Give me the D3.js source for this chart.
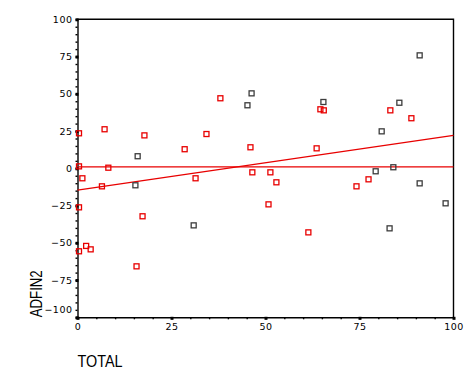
<!DOCTYPE html>
<html>
<head>
<meta charset="utf-8">
<script src="https://cdn.jsdelivr.net/npm/d3@7"></script>
<style>
  body { margin: 0; background: #fff; }
  svg { display: block; }
</style>
</head>
<body>
<div id="chart"></div>
<script>
// Data
const xTicks = [0, 25, 50, 75, 100];
const yTicks = [-100, -75, -50, -25, 0, 25, 50, 75, 100];

// red squares
const redX = [0.4, 7.2, 17.8, 34.3, 28.5, 0.4, 8.2, 1.3, 31.4, 6.5, 0.4, 17.3, 2.3, 3.5, 0.4, 15.7,
  38.0, 64.6, 65.5, 46.0, 63.6, 46.5, 51.3, 52.9, 50.8, 61.4, 83.2, 88.8, 77.4, 74.2];
const redY = [23.5, 26.2, 22.1, 23.0, 12.8, 1.3, 0.4, -6.7, -6.7, -12.1, -26.2, -32.2, -52.1, -54.4, -55.7, -65.8,
  47.0, 39.6, 38.9, 14.1, 13.4, -2.7, -2.7, -9.4, -24.2, -43.0, 38.9, 33.6, -7.4, -12.1];

// dark squares
const darkX = [16.0, 15.4, 30.9, 46.3, 45.2, 65.4, 91.0, 85.6, 80.9, 79.3, 84.0, 91.0, 97.9, 83.0];
const darkY = [8.1, -11.4, -38.3, 50.3, 42.3, 44.5, 75.8, 44.0, 24.8, -2.0, 0.7, -10.1, -23.5, -40.3];

// fit line and reference line
const fitX = [0, 100];
const fitY = [-14.6, 22.1];
const refY = 1;

const w = 473;
const h = 379;

const x = d3.scaleLinear().domain([0, 100]).range([77.5, 453.5]);
const y = d3.scaleLinear().domain([-100, 100]).range([317.3, 19.3]);

const svg = d3.select("#chart")
  .append("svg")
  .attr("width", w)
  .attr("height", h);

svg.append("rect").attr("width", w).attr("height", h).style("fill", "#fff");

const red = "#e80000";
const dark = "#3c3c3c";
const fontTick = "DejaVu Sans, Verdana, sans-serif";

// frame: top and right
svg.append("path")
  .attr("d", `M${x(0)},${y(100)}H${x(100)}V${y(-100)}`)
  .style("fill", "none")
  .style("stroke", "#000")
  .style("stroke-width", 1.4);

// minor ticks
svg.append("g")
  .attr("transform", "translate(" + x(0) + ",0)")
  .call(d3.axisLeft(y).tickValues(d3.range(-100, 101, 5)).tickSize(2).tickSizeOuter(0).tickFormat(""))
  .call(g => g.selectAll("path, line").style("stroke", "#000").style("stroke-width", 1.4));

svg.append("g")
  .attr("transform", "translate(0," + y(-100) + ")")
  .call(d3.axisBottom(x).tickValues(d3.range(0, 101, 5)).tickSize(2).tickSizeOuter(0).tickFormat(""))
  .call(g => g.selectAll("path, line").style("stroke", "#000").style("stroke-width", 1.4));

// major ticks with labels
const yAxis = svg.append("g")
  .attr("transform", "translate(" + x(0) + ",0)")
  .call(d3.axisLeft(y).tickValues(yTicks).tickSize(0).tickPadding(5))
  .call(g => g.select(".domain").remove());
yAxis.selectAll("text")
  .style("font-family", fontTick)
  .style("font-size", "9.5px")
  .style("letter-spacing", "0.5px")
  .style("fill", "#000")
  .attr("dy", d => d === -100 ? "-0.5em" : "0.32em");
yAxis.selectAll(".tick").append("rect")
  .attr("x", -2).attr("y", -1.5).attr("width", 3).attr("height", 3)
  .style("fill", "#000");

const xAxis = svg.append("g")
  .attr("transform", "translate(0," + y(-100) + ")")
  .call(d3.axisBottom(x).tickValues(xTicks).tickSize(0).tickPadding(6))
  .call(g => g.select(".domain").remove());
xAxis.selectAll("text")
  .style("font-family", fontTick)
  .style("font-size", "9.5px")
  .style("letter-spacing", "0.5px")
  .style("fill", "#000");
xAxis.selectAll(".tick").append("rect")
  .attr("x", -1.5).attr("y", -0.5).attr("width", 3).attr("height", 3)
  .style("fill", "#000");

// axis titles
svg.append("text")
  .attr("x", x(0))
  .attr("y", 366.5)
  .attr("textLength", 45)
  .attr("lengthAdjust", "spacingAndGlyphs")
  .style("font-family", "Liberation Sans, Arial, sans-serif")
  .style("font-size", "16px")
  .text("TOTAL");

svg.append("text")
  .attr("transform", "translate(41.5," + y(-100) + ") rotate(-90)")
  .attr("textLength", 47)
  .attr("lengthAdjust", "spacingAndGlyphs")
  .style("font-family", "Liberation Sans, Arial, sans-serif")
  .style("font-size", "16px")
  .text("ADFIN2");

// reference line
svg.append("line")
  .attr("x1", x(0)).attr("x2", x(100))
  .attr("y1", y(refY)).attr("y2", y(refY))
  .style("stroke", red)
  .style("stroke-width", 1.3);

// fit line
svg.append("line")
  .attr("x1", x(fitX[0])).attr("x2", x(fitX[1]))
  .attr("y1", y(fitY[0])).attr("y2", y(fitY[1]))
  .style("stroke", red)
  .style("stroke-width", 1.3);

// points
const drawPoints = (xs, ys, color) => {
  svg.append("g")
    .selectAll("rect")
    .data(xs.map((d, i) => [d, ys[i]]))
    .enter()
    .append("rect")
    .attr("x", d => x(d[0]) - 2.5)
    .attr("y", d => y(d[1]) - 2.5)
    .attr("width", 5)
    .attr("height", 5)
    .style("fill", "none")
    .style("stroke", color)
    .style("stroke-width", 1.3);
};

drawPoints(darkX, darkY, dark);
drawPoints(redX, redY, red);
</script>
</body>
</html>
